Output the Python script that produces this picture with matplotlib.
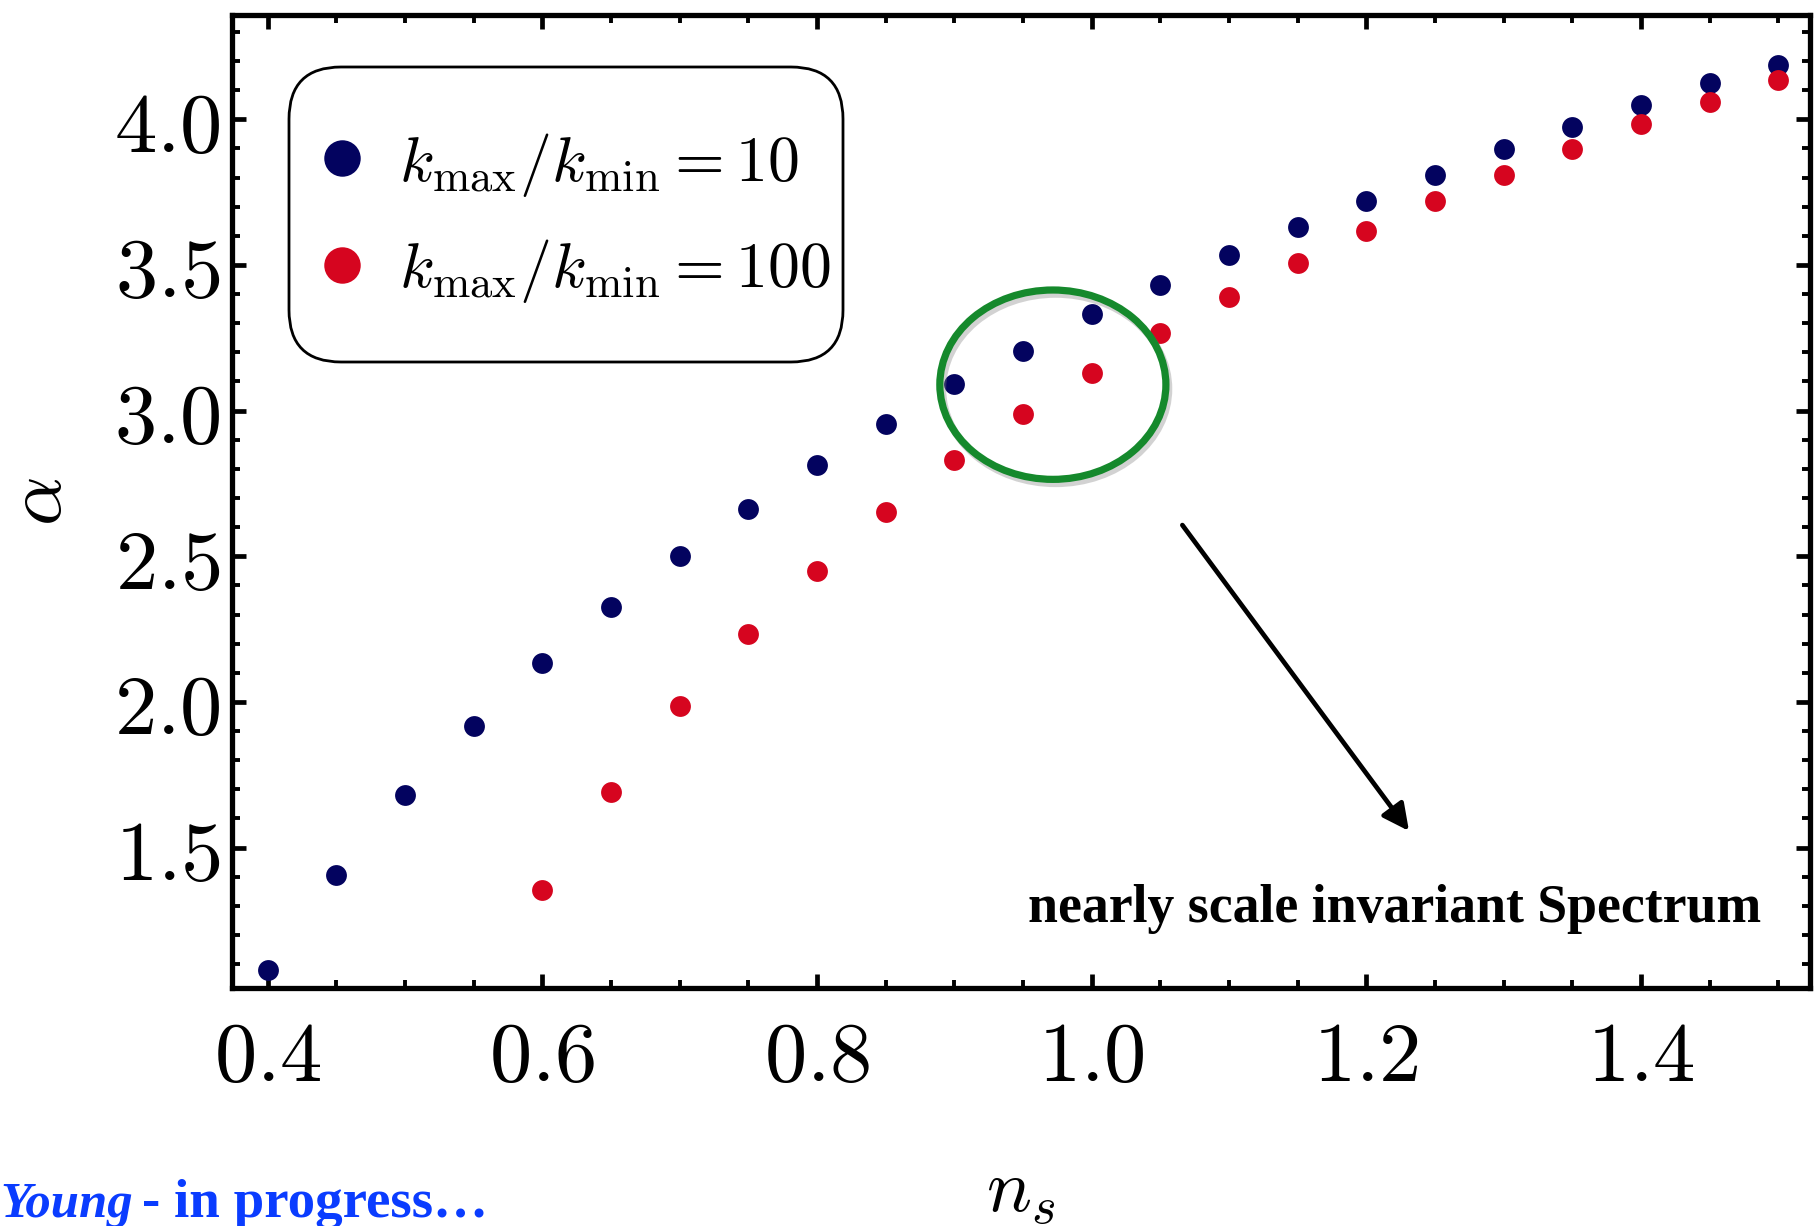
import matplotlib
matplotlib.use("Agg")
import matplotlib.pyplot as plt
import matplotlib.patheffects as pe
from matplotlib.patches import Ellipse, FancyBboxPatch
from matplotlib.ticker import MultipleLocator, FuncFormatter

# ---------------- data ----------------
ns_blue = [0.40, 0.45, 0.50, 0.55, 0.60, 0.65, 0.70, 0.75, 0.80, 0.85, 0.90, 0.95,
           1.00, 1.05, 1.10, 1.15, 1.20, 1.25, 1.30, 1.35, 1.40, 1.45, 1.50]
alpha_blue = [1.079, 1.406, 1.680, 1.919, 2.134, 2.325, 2.500, 2.663, 2.814, 2.953, 3.093, 3.204,
              3.331, 3.431, 3.534, 3.630, 3.721, 3.809, 3.897, 3.972, 4.048, 4.123, 4.187]

ns_red = [0.60, 0.65, 0.70, 0.75, 0.80, 0.85, 0.90, 0.95, 1.00, 1.05, 1.10, 1.15,
          1.20, 1.25, 1.30, 1.35, 1.40, 1.45, 1.50]
alpha_red = [1.354, 1.692, 1.986, 2.233, 2.448, 2.651, 2.830, 2.989, 3.129, 3.268, 3.391, 3.507,
             3.618, 3.721, 3.809, 3.897, 3.984, 4.060, 4.135]

label_blue = r"$k_{\mathrm{max}}/k_{\mathrm{min}} = 10$"
label_red = r"$k_{\mathrm{max}}/k_{\mathrm{min}} = 100$"
annot_text = "nearly scale invariant Spectrum"
footer_italic = "Young"
footer_rest = "- in progress\u2026"

# annotation geometry (data coords)
ellipse_center = (0.9717, 3.089)
ellipse_size = (0.1646, 0.650)
arrow_start = (1.066, 2.607)
arrow_end = (1.231, 1.557)
text_pos = (0.9536, 1.246)

plt.rcParams["mathtext.fontset"] = "cm"
plt.rcParams["axes.unicode_minus"] = False

BLUE = "#03035f"
RED = "#d6051f"
GREEN = "#15892c"

W, H = 1818, 1226
fig = plt.figure(figsize=(W / 100, H / 100), dpi=100)
ax = fig.add_axes([232 / W, 1 - 988 / H, (1810 - 232) / W, (988 - 15) / H])

ax.plot(ns_blue, alpha_blue, "o", ms=15, color=BLUE, mec="none", label=label_blue, zorder=3)
ax.plot(ns_red, alpha_red, "o", ms=15, color=RED, mec="none", label=label_red, zorder=3)

ax.set_xlim(0.374, 1.523)
ax.set_ylim(1.018, 4.358)

ax.xaxis.set_major_locator(MultipleLocator(0.2))
ax.xaxis.set_minor_locator(MultipleLocator(0.05))
ax.yaxis.set_major_locator(MultipleLocator(0.5))
ax.yaxis.set_minor_locator(MultipleLocator(0.1))
ax.xaxis.set_major_formatter(FuncFormatter(lambda v, p: r"$%.1f$" % v))
ax.yaxis.set_major_formatter(FuncFormatter(lambda v, p: r"$\mathbf{%.1f}$" % v))

ax.tick_params(which="both", direction="in", top=True, right=True, labelsize=61)
ax.tick_params(which="major", length=10, width=3.4)
ax.tick_params(which="minor", length=5.5, width=2.8)
ax.tick_params(axis="x", pad=20)
ax.tick_params(axis="y", pad=8)
for s in ax.spines.values():
    s.set_linewidth(3.8)

ax.set_xlabel(r"$n_s$", fontsize=54)
ax.set_ylabel(r"$\alpha$", fontsize=56)
ax.xaxis.set_label_coords(0.5, -0.172)
ax.yaxis.set_label_coords(-0.098, 0.5)

# legend (entries without frame) + rounded frame drawn separately
leg = ax.legend(loc="center left", bbox_to_anchor=(0.0513, 0.7915), fontsize=46,
                markerscale=1.75, handletextpad=0.45, handlelength=0.9,
                borderpad=0.0, labelspacing=0.6, borderaxespad=0.0,
                frameon=False)
frame = FancyBboxPatch((2.89 + 0.52, 8.64 + 0.52), 8.43 - 2.89 - 1.04, 11.59 - 8.64 - 1.04,
                       boxstyle="round,pad=0.52", transform=fig.dpi_scale_trans,
                       facecolor="white", edgecolor="black", lw=2.0, zorder=2)
fig.patches.append(frame)
ax.set_zorder(3)
ax.patch.set_alpha(0)
fig.patch.set_facecolor("white")

ell = Ellipse(ellipse_center, ellipse_size[0], ellipse_size[1], fill=False,
              edgecolor=GREEN, lw=5.2, zorder=4,
              path_effects=[pe.SimpleLineShadow(offset=(2, -3), shadow_color="gray", alpha=0.35),
                            pe.Normal()])
ax.add_patch(ell)

ax.annotate("", xy=arrow_end, xytext=arrow_start,
            arrowprops=dict(arrowstyle="-|>", color="black", lw=3.4,
                            mutation_scale=40, shrinkA=0, shrinkB=0))

ax.text(text_pos[0], text_pos[1], annot_text, family="Liberation Serif", fontweight="bold",
        fontsize=38.7, ha="left", va="baseline")

fig.text(0.0, 1 - 1217 / H, footer_italic, family="Liberation Serif", fontstyle="italic",
         fontweight="bold", fontsize=36.5, color="#0a3cff", ha="left", va="baseline")
fig.text(142 / W, 1 - 1217 / H, footer_rest, family="Liberation Serif",
         fontweight="bold", fontsize=39.5, color="#0a3cff", ha="left", va="baseline")

fig.savefig("out.png", dpi=100)
